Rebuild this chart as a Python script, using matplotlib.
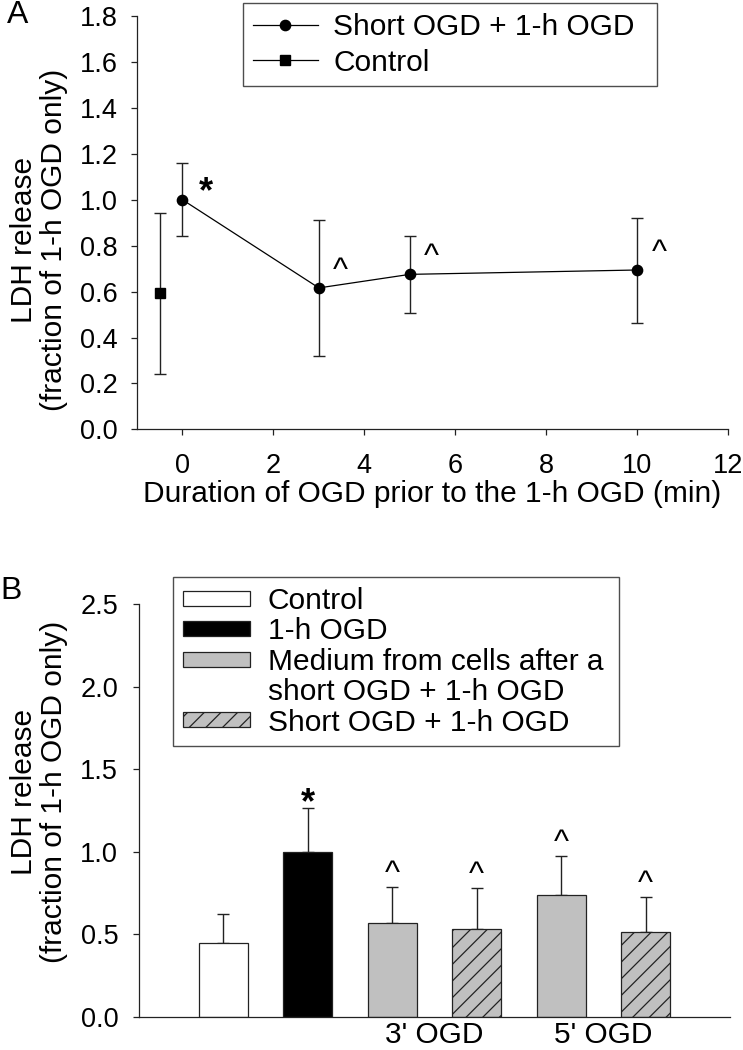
import numpy as np
import matplotlib
matplotlib.use('Agg')
import matplotlib.pyplot as plt
import matplotlib.patches as mpatches

plt.rcParams['font.family'] = ['Liberation Sans', 'DejaVu Sans']
plt.rcParams['font.size'] = 21.5
plt.rcParams['hatch.linewidth'] = 0.9

# Panel A: LDH release vs duration of short OGD
a_dur = [0, 3, 5, 10]
a_mean = [1.00, 0.616, 0.675, 0.694]
a_low = [0.842, 0.319, 0.505, 0.465]
a_high = [1.16, 0.912, 0.842, 0.922]
a_sig = ['*', '^', '^', '^']

ctrl_x = [-0.5]
ctrl_mean = [0.593]
ctrl_low = [0.242]
ctrl_high = [0.943]

# Panel B: bars
b_kind = ['ctrl', 'ogd', 'medium', 'short', 'medium', 'short']
b_mean = [0.45, 1.00, 0.567, 0.531, 0.741, 0.517]
b_err = [0.172, 0.267, 0.222, 0.252, 0.234, 0.211]
b_sig = ['', '*', '^', '^', '^', '^']
b_groups = ["3' OGD", "5' OGD"]

leg_a = ['Short OGD + 1-h OGD', 'Control']
leg_b = ['Control', '1-h OGD', 'Medium from cells after a',
         'short OGD + 1-h OGD', 'Short OGD + 1-h OGD']
ylab = 'LDH release\n(fraction of 1-h OGD only)'

ink = '#222222'
tick_fs = 19.5
styles = {
    'ctrl': dict(color='white', hatch=None),
    'ogd': dict(color='black', hatch=None),
    'medium': dict(color='#c0c0c0', hatch=None),
    'short': dict(color='#c0c0c0', hatch='//'),
}


def clean_axes(ax):
    ax.spines['top'].set_visible(False)
    ax.spines['right'].set_visible(False)
    for s in ['left', 'bottom']:
        ax.spines[s].set_linewidth(0.9)
        ax.spines[s].set_color(ink)


def sig_text(ax, x, y, s):
    if s == '*':
        ax.text(x, y, s, ha='center', va='baseline', fontsize=26, fontweight='bold')
    elif s:
        ax.text(x, y, s, ha='center', va='baseline', fontsize=23)


fig = plt.figure(figsize=(7.43, 10.5), dpi=100)

# ---------------- panel A ----------------
axA = fig.add_axes([0.1844, 0.5911, 0.7954, 0.3936])
clean_axes(axA)

m = np.array(a_mean)
axA.errorbar(a_dur, a_mean, yerr=[m - np.array(a_low), np.array(a_high) - m],
             fmt='none', ecolor=ink, elinewidth=1.0, capsize=4.3, capthick=1.0)
axA.plot(a_dur, a_mean, '-o', color='black', lw=0.9, ms=7.4, label=leg_a[0])

c = np.array(ctrl_mean)
axA.errorbar(ctrl_x, ctrl_mean, yerr=[c - np.array(ctrl_low), np.array(ctrl_high) - c],
             fmt='none', ecolor=ink, elinewidth=1.0, capsize=4.3, capthick=1.0)
axA.plot(ctrl_x, ctrl_mean, '-s', color='black', lw=0.9, ms=6.5, label=leg_a[1])

for xi, yi, s in zip(a_dur, a_mean, a_sig):
    if s == '*':
        sig_text(axA, xi + 0.52, yi - 0.012, s)
    else:
        sig_text(axA, xi + 0.48, yi + 0.04, s)

axA.set_xlim(-1, 12)
axA.set_ylim(0, 1.8)
axA.set_xticks(np.arange(0, 13, 2))
axA.set_yticks(np.arange(0, 1.81, 0.2))
axA.set_yticklabels(['%.1f' % v for v in np.arange(0, 1.81, 0.2)])
axA.tick_params(axis='both', direction='out', length=4, width=0.9, color=ink,
                labelsize=tick_fs)
axA.tick_params(axis='x', pad=13)
axA.tick_params(axis='y', pad=10)
axA.set_xlabel('Duration of OGD prior to the 1-h OGD (min)', labelpad=1)
axA.set_ylabel(ylab, linespacing=1.1)
axA.yaxis.set_label_coords(-0.117, 0.458)

legA = axA.legend(loc='upper left', bbox_to_anchor=(0.179, 0.804, 0.701, 0.227),
                  mode='expand', borderaxespad=0, frameon=True, fancybox=False,
                  edgecolor=ink, borderpad=0.33, labelspacing=0.25,
                  handlelength=2.2, handletextpad=0.5)
legA.get_frame().set_linewidth(1.0)

# ---------------- panel B ----------------
axB = fig.add_axes([0.1871, 0.0314, 0.7954, 0.3933])
clean_axes(axB)

pos = np.arange(len(b_mean))
handles = {}
for p, k, v in zip(pos, b_kind, b_mean):
    st = styles[k]
    bars = axB.bar(p, v, width=0.58, color=st['color'], edgecolor=ink,
                   linewidth=0.9, hatch=st['hatch'], zorder=2)
    handles.setdefault(k, bars[0])

axB.errorbar(pos, b_mean, yerr=[np.zeros(len(b_err)), b_err], fmt='none',
             ecolor=ink, elinewidth=1.0, capsize=4.3, capthick=1.0, zorder=1)

for p, v, e, s in zip(pos, b_mean, b_err, b_sig):
    if s == '*':
        sig_text(axB, p, v + e - 0.03, s)
    else:
        sig_text(axB, p, v + e + 0.03, s)

axB.set_xlim(-1, 6)
axB.set_ylim(0, 2.5)
axB.set_yticks(np.arange(0, 2.51, 0.5))
axB.set_yticklabels(['%.1f' % v for v in np.arange(0, 2.51, 0.5)])
axB.set_xticks([2.5, 4.5])
axB.set_xticklabels(b_groups)
axB.tick_params(axis='x', length=0, pad=2.5)
axB.tick_params(axis='y', direction='out', length=4, width=0.9, color=ink, pad=11,
                labelsize=tick_fs)
axB.set_ylabel(ylab, linespacing=1.1)
axB.yaxis.set_label_coords(-0.1206, 0.545)

blank = mpatches.Rectangle((0, 0), 1, 1, fc='none', ec='none', lw=0)
legB = axB.legend([handles['ctrl'], handles['ogd'], handles['medium'], blank, handles['short']],
                  leg_b, loc='upper left', bbox_to_anchor=(0.0575, 0.593, 0.7547, 0.472),
                  mode='expand', borderaxespad=0, frameon=True, fancybox=False,
                  edgecolor=ink, borderpad=0.33, labelspacing=0.08,
                  handlelength=2.24, handleheight=0.4, handletextpad=0.6)
legB.get_frame().set_linewidth(1.0)

fig.text(0.009, 1.0, 'A', va='top', ha='left', fontsize=23)
fig.text(0.0, 0.4514, 'B', va='top', ha='left', fontsize=23)

fig.savefig('out.png', dpi=100)
